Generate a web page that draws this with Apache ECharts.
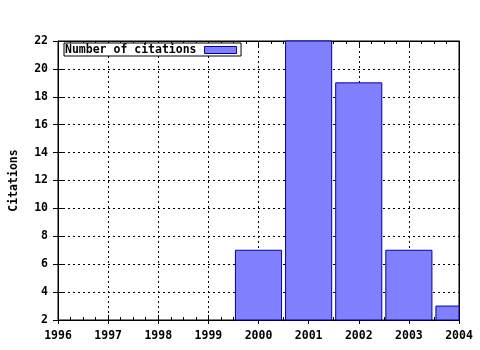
<!DOCTYPE html>
<html><head><meta charset="utf-8">
<script src="https://cdn.jsdelivr.net/npm/echarts@6/dist/echarts.min.js"></script>
<style>html,body{margin:0;padding:0;background:#fff}#c{width:480px;height:350px}</style>
</head><body><div id="c"></div>
<script>
const years = [2000, 2001, 2002, 2003, 2004];
const citations = [7, 22, 19, 7, 3];
const seriesName = 'Number of citations';
const yTitle = 'Citations';

const FONT = 'DejaVu Sans Mono';
const lab = {color:'#000', fontFamily:FONT, fontWeight:'bold', fontSize:11.5};
const dash = {color:'#000', type:[2,3], width:1};
const BAR_FRAC = 0.92;
const FILL = '#8080ff', STROKE = '#0000a0';

const chart = echarts.init(document.getElementById('c'), null, {renderer:'canvas'});
const xBase = {type:'value', min:1996, max:2004, interval:1, gridIndex:0};
const yBase = {type:'value', min:2, max:22, interval:2, gridIndex:0};
chart.setOption({
  animation:false,
  backgroundColor:'#fff',
  grid:{left:57, right:21, top:41, bottom:30, show:true, borderColor:'#000', borderWidth:1, backgroundColor:'transparent'},
  legend:{
    show:true, left:64, top:43, align:'right', orient:'horizontal',
    itemWidth:32, itemHeight:7, padding:[1,4,0,1],
    borderColor:'#000', borderWidth:1, borderRadius:0, backgroundColor:'#fff',
    textStyle:Object.assign({}, lab, {padding:[0,3,0,0]}),
    data:[{name:seriesName, icon:'rect', itemStyle:{color:FILL, borderColor:STROKE, borderWidth:1}}]
  },
  xAxis:[
    Object.assign({}, xBase, {position:'bottom',
      axisLine:{show:true, lineStyle:{color:'#000', width:1}},
      axisTick:{show:true, inside:true, length:5, lineStyle:{color:'#000'}},
      minorTick:{show:true, splitNumber:4, length:3, lineStyle:{color:'#000'}},
      axisLabel:Object.assign({}, lab, {margin:10, formatter:v=>String(v)}),
      splitLine:{show:true, lineStyle:dash}}),
    Object.assign({}, xBase, {position:'bottom', offset:0,
      axisLine:{show:false}, axisTick:{show:true, inside:false, length:4, lineStyle:{color:'#000'}},
      axisLabel:{show:false}, splitLine:{show:false}}),
    Object.assign({}, xBase, {position:'top',
      axisLine:{show:true, lineStyle:{color:'#000'}},
      axisTick:{show:true, inside:true, length:5, lineStyle:{color:'#000'}},
      minorTick:{show:true, splitNumber:4, length:3, lineStyle:{color:'#000'}},
      axisLabel:{show:false}, splitLine:{show:false}})
  ],
  yAxis:[
    Object.assign({}, yBase, {position:'left',
      name:yTitle, nameLocation:'middle', nameGap:38, nameRotate:90,
      nameTextStyle:lab,
      axisLine:{show:true, lineStyle:{color:'#000', width:1}},
      axisTick:{show:true, inside:true, length:5, lineStyle:{color:'#000'}},
      axisLabel:Object.assign({}, lab, {margin:10}),
      splitLine:{show:true, lineStyle:dash}}),
    Object.assign({}, yBase, {position:'left', offset:0,
      axisLine:{show:false}, axisTick:{show:true, inside:false, length:5, lineStyle:{color:'#000'}},
      axisLabel:{show:false}, splitLine:{show:false}}),
    Object.assign({}, yBase, {position:'right',
      axisLine:{show:true, lineStyle:{color:'#000'}},
      axisTick:{show:false}, axisLabel:{show:false}, splitLine:{show:false}})
  ],
  series:[{
    name:seriesName, type:'custom', xAxisIndex:0, yAxisIndex:0,
    itemStyle:{color:FILL, borderColor:STROKE, borderWidth:1},
    encode:{x:0, y:1},
    renderItem:function(params, api){
      const x = api.value(0), y = api.value(1);
      const top = api.coord([x, y]);
      const base = api.coord([x, 0]);
      const w = api.size([BAR_FRAC, 0])[0];
      const cs = params.coordSys;
      const r = echarts.graphic.clipRectByRect(
        {x: top[0] - w/2, y: top[1], width: w, height: base[1] - top[1]},
        {x: cs.x, y: cs.y, width: cs.width, height: cs.height});
      if (!r) return null;
      return {type:'rect', shape:r, style:{fill:FILL, stroke:STROKE, lineWidth:1}};
    },
    data:years.map((y,i)=>[y, citations[i]])
  }]
});
</script></body></html>
